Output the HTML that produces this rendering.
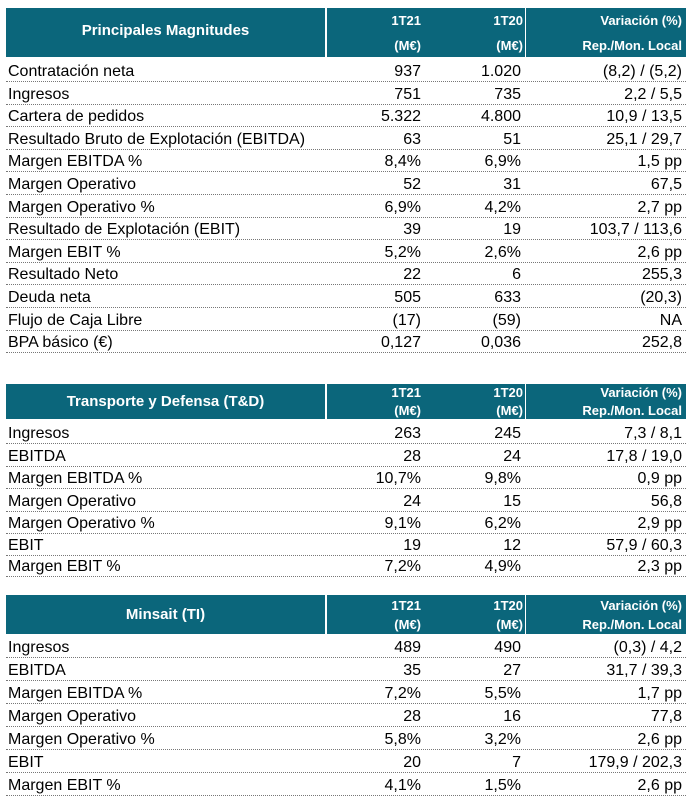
<!DOCTYPE html>
<html><head><meta charset="utf-8"><style>
body{margin:0;width:691px;height:802px;background:#fff;position:relative;font-family:"Liberation Sans",Arial,sans-serif;overflow:hidden}
.h{position:absolute;left:6px;width:680px;background:#0b667b;color:#fff;font-weight:bold}
.h .t{position:absolute;left:0;width:319px;text-align:center;font-size:15px}
.h .d1{position:absolute;left:319px;top:0;bottom:0;width:2px;background:#fff}
.h .d2{position:absolute;left:519px;top:0;bottom:0;width:1px;background:#fff}
.h .c{position:absolute;font-size:13px;text-align:right}
.r{position:absolute;left:6px;width:680px;border-bottom:1px dotted #777;font-size:16px;color:#000}
.r span{position:absolute;bottom:0px;white-space:nowrap}
.l{left:2px}.a{right:265px}.b{right:165px}.v{right:4px}
</style></head><body>

<div class="h" style="top:8px;height:49px">
<div class="t" style="top:14px">Principales Magnitudes</div><div class="d1"></div><div class="d2"></div>
<div class="c" style="right:265px;top:5px">1T21</div><div class="c" style="right:265px;top:30px">(M€)</div>
<div class="c" style="right:163px;top:5px">1T20</div><div class="c" style="right:163px;top:30px">(M€)</div>
<div class="c" style="right:4px;top:5px">Variación (%)</div><div class="c" style="right:4px;top:30px">Rep./Mon. Local</div>
</div>

<div class="r" style="top:59px;height:22px"><span class="l">Contratación neta</span><span class="a">937</span><span class="b">1.020</span><span class="v">(8,2) / (5,2)</span></div>
<div class="r" style="top:82px;height:22px"><span class="l">Ingresos</span><span class="a">751</span><span class="b">735</span><span class="v">2,2 / 5,5</span></div>
<div class="r" style="top:104px;height:22px"><span class="l">Cartera de pedidos</span><span class="a">5.322</span><span class="b">4.800</span><span class="v">10,9 / 13,5</span></div>
<div class="r" style="top:127px;height:22px"><span class="l">Resultado Bruto de Explotación (EBITDA)</span><span class="a">63</span><span class="b">51</span><span class="v">25,1 / 29,7</span></div>
<div class="r" style="top:149px;height:22px"><span class="l">Margen EBITDA %</span><span class="a">8,4%</span><span class="b">6,9%</span><span class="v">1,5 pp</span></div>
<div class="r" style="top:172px;height:22px"><span class="l">Margen Operativo</span><span class="a">52</span><span class="b">31</span><span class="v">67,5</span></div>
<div class="r" style="top:195px;height:22px"><span class="l">Margen Operativo %</span><span class="a">6,9%</span><span class="b">4,2%</span><span class="v">2,7 pp</span></div>
<div class="r" style="top:217px;height:22px"><span class="l">Resultado de Explotación (EBIT)</span><span class="a">39</span><span class="b">19</span><span class="v">103,7 / 113,6</span></div>
<div class="r" style="top:240px;height:22px"><span class="l">Margen EBIT %</span><span class="a">5,2%</span><span class="b">2,6%</span><span class="v">2,6 pp</span></div>
<div class="r" style="top:262px;height:22px"><span class="l">Resultado Neto</span><span class="a">22</span><span class="b">6</span><span class="v">255,3</span></div>
<div class="r" style="top:285px;height:22px"><span class="l">Deuda neta</span><span class="a">505</span><span class="b">633</span><span class="v">(20,3)</span></div>
<div class="r" style="top:308px;height:22px"><span class="l">Flujo de Caja Libre</span><span class="a">(17)</span><span class="b">(59)</span><span class="v">NA</span></div>
<div class="r" style="top:330px;height:22px"><span class="l">BPA básico (€)</span><span class="a">0,127</span><span class="b">0,036</span><span class="v">252,8</span></div>

<div class="h" style="top:384px;height:35px">
<div class="t" style="top:9px">Transporte y Defensa (T&amp;D)</div><div class="d1"></div><div class="d2"></div>
<div class="c" style="right:265px;top:1px">1T21</div><div class="c" style="right:265px;top:19px">(M€)</div>
<div class="c" style="right:163px;top:1px">1T20</div><div class="c" style="right:163px;top:19px">(M€)</div>
<div class="c" style="right:4px;top:1px">Variación (%)</div><div class="c" style="right:4px;top:19px">Rep./Mon. Local</div>
</div>

<div class="r" style="top:421px;height:22px"><span class="l">Ingresos</span><span class="a">263</span><span class="b">245</span><span class="v">7,3 / 8,1</span></div>
<div class="r" style="top:444px;height:22px"><span class="l">EBITDA</span><span class="a">28</span><span class="b">24</span><span class="v">17,8 / 19,0</span></div>
<div class="r" style="top:466px;height:22px"><span class="l">Margen EBITDA %</span><span class="a">10,7%</span><span class="b">9,8%</span><span class="v">0,9 pp</span></div>
<div class="r" style="top:489px;height:22px"><span class="l">Margen Operativo</span><span class="a">24</span><span class="b">15</span><span class="v">56,8</span></div>
<div class="r" style="top:511px;height:22px"><span class="l">Margen Operativo %</span><span class="a">9,1%</span><span class="b">6,2%</span><span class="v">2,9 pp</span></div>
<div class="r" style="top:534px;height:21px"><span class="l">EBIT</span><span class="a">19</span><span class="b">12</span><span class="v">57,9 / 60,3</span></div>
<div class="r" style="top:556px;height:20px"><span class="l">Margen EBIT %</span><span class="a">7,2%</span><span class="b">4,9%</span><span class="v">2,3 pp</span></div>

<div class="h" style="top:595px;height:39px">
<div class="t" style="top:11px">Minsait (TI)</div><div class="d1"></div><div class="d2"></div>
<div class="c" style="right:265px;top:3px">1T21</div><div class="c" style="right:265px;top:22px">(M€)</div>
<div class="c" style="right:163px;top:3px">1T20</div><div class="c" style="right:163px;top:22px">(M€)</div>
<div class="c" style="right:4px;top:3px">Variación (%)</div><div class="c" style="right:4px;top:22px">Rep./Mon. Local</div>
</div>

<div class="r" style="top:635px;height:22px"><span class="l">Ingresos</span><span class="a">489</span><span class="b">490</span><span class="v">(0,3) / 4,2</span></div>
<div class="r" style="top:658px;height:22px"><span class="l">EBITDA</span><span class="a">35</span><span class="b">27</span><span class="v">31,7 / 39,3</span></div>
<div class="r" style="top:681px;height:22px"><span class="l">Margen EBITDA %</span><span class="a">7,2%</span><span class="b">5,5%</span><span class="v">1,7 pp</span></div>
<div class="r" style="top:704px;height:22px"><span class="l">Margen Operativo</span><span class="a">28</span><span class="b">16</span><span class="v">77,8</span></div>
<div class="r" style="top:727px;height:22px"><span class="l">Margen Operativo %</span><span class="a">5,8%</span><span class="b">3,2%</span><span class="v">2,6 pp</span></div>
<div class="r" style="top:750px;height:22px"><span class="l">EBIT</span><span class="a">20</span><span class="b">7</span><span class="v">179,9 / 202,3</span></div>
<div class="r" style="top:773px;height:22px"><span class="l">Margen EBIT %</span><span class="a">4,1%</span><span class="b">1,5%</span><span class="v">2,6 pp</span></div>

</body></html>
